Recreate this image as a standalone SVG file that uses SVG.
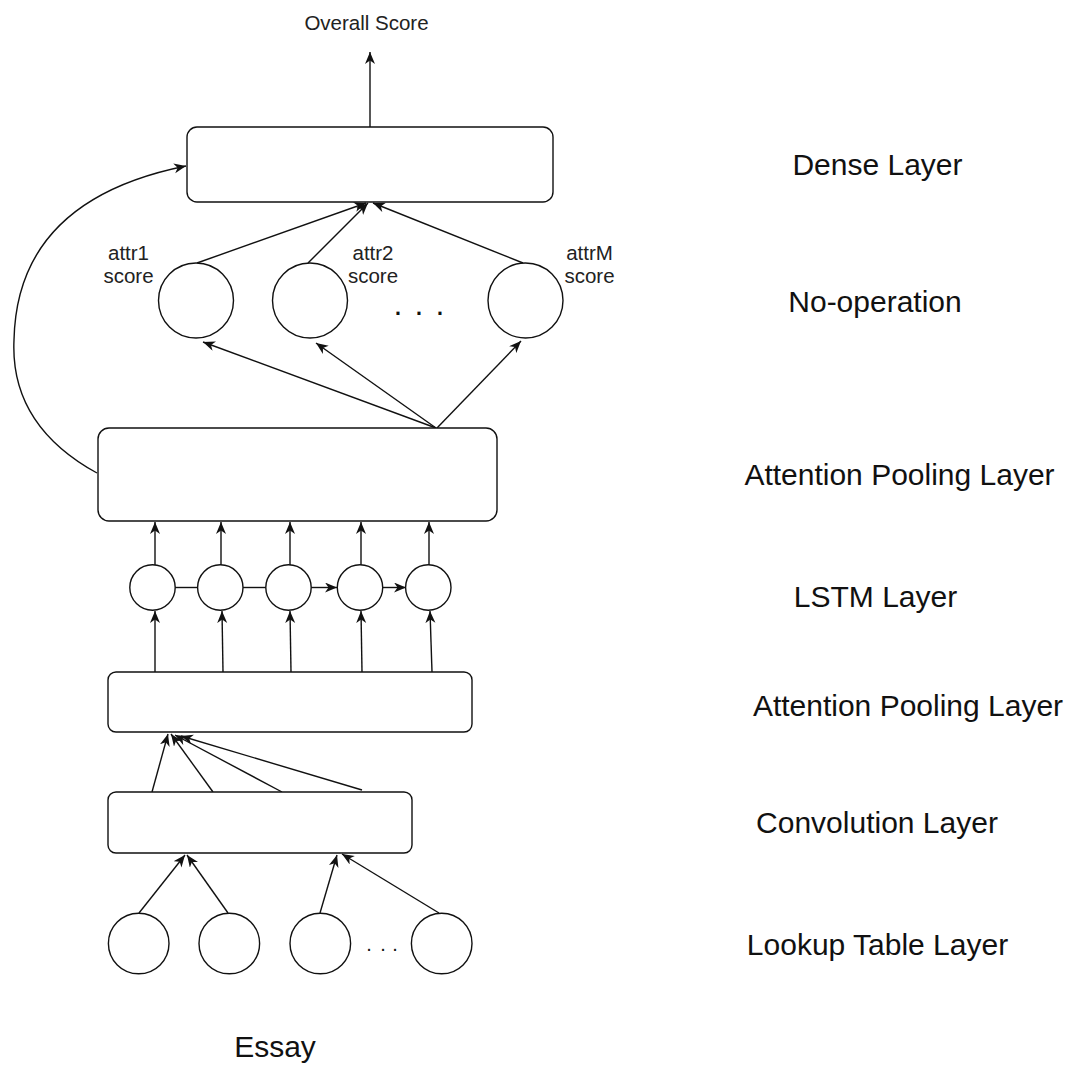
<svg xmlns="http://www.w3.org/2000/svg" width="1073" height="1069" viewBox="0 0 1073 1069">
  <style>
    .box { fill: #ffffff; stroke: #111111; stroke-width: 1.4; }
    .node { fill: #ffffff; stroke: #111111; stroke-width: 1.4; }
    .edge { fill: none; stroke: #111111; stroke-width: 1.4; }
    .arrow { marker-end: url(#head); }
    .big { font-family: "Liberation Sans", Arial, sans-serif; font-size: 30px; fill: #111111; text-anchor: middle; }
    .small { font-family: "Liberation Sans", Arial, sans-serif; font-size: 20.5px; fill: #222222; text-anchor: middle; }
    .dots { font-family: "Liberation Sans", Arial, sans-serif; fill: #111111; }
  </style>
  <defs>
    <marker id="head" markerUnits="userSpaceOnUse" markerWidth="13" markerHeight="11" refX="12" refY="5" orient="auto">
      <path d="M0,0 L12,5 L0,10 L3.5,5 Z" fill="#111111"/>
    </marker>
  </defs>
  <rect width="1073" height="1069" fill="#ffffff"/>

  <!-- Connectors -->
  <g id="connectors">
    <!-- output of the dense layer -->
    <line class="edge arrow" x1="370" y1="127" x2="370" y2="52"/>
    <!-- attribute scores into the dense layer -->
    <line class="edge arrow" x1="197" y1="263" x2="366" y2="203"/>
    <line class="edge arrow" x1="308" y1="263" x2="368" y2="203"/>
    <line class="edge arrow" x1="523" y1="263" x2="373" y2="203"/>
    <!-- attention pooling into the attribute nodes -->
    <line class="edge arrow" x1="436" y1="428" x2="203" y2="342"/>
    <line class="edge arrow" x1="436" y1="428" x2="316" y2="343"/>
    <line class="edge arrow" x1="437" y1="428" x2="521" y2="341"/>
    <!-- skip connection from attention pooling to the dense layer -->
    <path class="edge arrow" d="M97,473 Q10,425 14,340 Q17,200 186,166"/>
    <!-- LSTM outputs -->
    <line class="edge arrow" x1="155" y1="565" x2="155" y2="522"/>
    <line class="edge arrow" x1="221" y1="565" x2="221" y2="522"/>
    <line class="edge arrow" x1="290" y1="565" x2="290" y2="522"/>
    <line class="edge arrow" x1="361" y1="565" x2="361" y2="522"/>
    <line class="edge arrow" x1="429" y1="565" x2="429" y2="522"/>
    <!-- LSTM recurrence -->
    <line class="edge" x1="175" y1="587.5" x2="197" y2="587.5"/>
    <line class="edge" x1="243" y1="587.5" x2="266" y2="587.5"/>
    <line class="edge arrow" x1="311" y1="587.5" x2="337" y2="587.5"/>
    <line class="edge arrow" x1="383" y1="587.5" x2="406" y2="587.5"/>
    <!-- sentence vectors into the LSTM -->
    <line class="edge arrow" x1="155" y1="672" x2="155" y2="611"/>
    <line class="edge arrow" x1="223" y1="672" x2="222" y2="611"/>
    <line class="edge arrow" x1="291" y1="672" x2="290" y2="611"/>
    <line class="edge arrow" x1="362" y1="672" x2="361" y2="611"/>
    <line class="edge arrow" x1="432" y1="672" x2="430" y2="611"/>
    <!-- convolution into word-level attention pooling -->
    <line class="edge arrow" x1="152" y1="792" x2="168" y2="734"/>
    <line class="edge arrow" x1="213" y1="792" x2="171" y2="734"/>
    <line class="edge arrow" x1="282" y1="792" x2="175" y2="735"/>
    <line class="edge arrow" x1="362" y1="790" x2="181" y2="736"/>
    <!-- lookup table into convolution -->
    <line class="edge arrow" x1="139" y1="913" x2="185" y2="855"/>
    <line class="edge arrow" x1="228" y1="913" x2="187" y2="855"/>
    <line class="edge arrow" x1="320" y1="913" x2="337" y2="855"/>
    <line class="edge arrow" x1="439" y1="913" x2="342" y2="854"/>
  </g>

  <!-- Nodes -->
  <g id="dense-layer">
    <rect class="box" x="187" y="127" width="366" height="75" rx="10"/>
  </g>
  <g id="attr1">
    <circle class="node" cx="196" cy="300.5" r="37.5"/>
    <text class="small" x="128.5" y="260">attr1</text>
    <text class="small" x="128.5" y="283">score</text>
  </g>
  <g id="attr2">
    <circle class="node" cx="310" cy="300.5" r="37.5"/>
    <text class="small" x="373" y="260">attr2</text>
    <text class="small" x="373" y="283">score</text>
  </g>
  <g id="attr-dots">
    <text class="dots" font-size="32" x="393.6 414.6 435.6" y="315">...</text>
  </g>
  <g id="attrM">
    <circle class="node" cx="525.5" cy="300.5" r="37.5"/>
    <text class="small" x="589.5" y="260">attrM</text>
    <text class="small" x="589.5" y="283">score</text>
  </g>
  <g id="sentence-attention">
    <rect class="box" x="98" y="428" width="399" height="93" rx="11"/>
  </g>
  <g id="lstm">
    <circle class="node" cx="152.5" cy="587.5" r="22.7"/>
    <circle class="node" cx="220.3" cy="587.5" r="22.7"/>
    <circle class="node" cx="288.5" cy="587.5" r="22.7"/>
    <circle class="node" cx="360" cy="587.5" r="22.7"/>
    <circle class="node" cx="428.3" cy="587.5" r="22.7"/>
  </g>
  <g id="word-attention">
    <rect class="box" x="108" y="672" width="364" height="60" rx="8"/>
  </g>
  <g id="convolution">
    <rect class="box" x="108" y="792" width="304" height="61" rx="8"/>
  </g>
  <g id="lookup">
    <circle class="node" cx="138.7" cy="943.5" r="30.3"/>
    <circle class="node" cx="229.3" cy="943.5" r="30.3"/>
    <circle class="node" cx="320.3" cy="943.5" r="30.3"/>
    <text class="dots" font-size="20" x="366.2 380.2 392.2" y="951">...</text>
    <circle class="node" cx="441.7" cy="943.5" r="30.3"/>
  </g>

  <!-- Labels -->
  <g id="labels">
    <text class="small" x="366.5" y="30">Overall Score</text>
    <text class="big" x="877.5" y="175">Dense Layer</text>
    <text class="big" x="875" y="312">No-operation</text>
    <text class="big" x="899.5" y="485">Attention Pooling Layer</text>
    <text class="big" x="875.5" y="607">LSTM Layer</text>
    <text class="big" x="908" y="716">Attention Pooling Layer</text>
    <text class="big" x="877" y="833">Convolution Layer</text>
    <text class="big" x="877.5" y="955">Lookup Table Layer</text>
    <text class="big" x="275" y="1057">Essay</text>
  </g>
</svg>
